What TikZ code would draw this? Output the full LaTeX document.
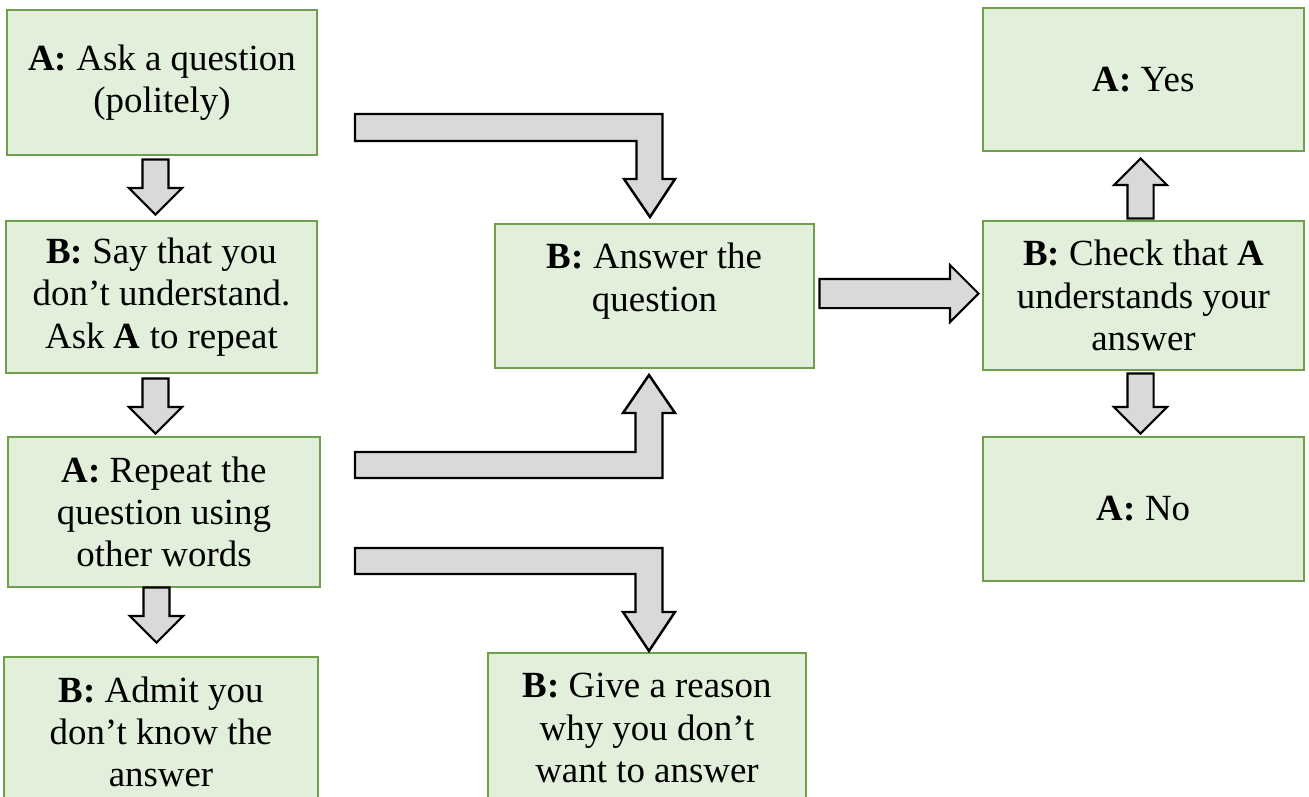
\documentclass[tikz,border=0pt]{standalone}
\usepackage{fontspec}
\setmainfont{Liberation Serif}
\usetikzlibrary{shapes.arrows}

\definecolor{boxfill}{HTML}{E2EFDA}
\definecolor{boxline}{HTML}{6F9E4C}
\definecolor{arrowfill}{HTML}{D9D9D9}

\tikzset{
  box/.style = {draw=boxline, fill=boxfill, line width=0.9pt, align=center,
    inner sep=0pt, font=\fontsize{21}{24}\selectfont},
  smallarrow/.style = {single arrow, draw=black, fill=arrowfill, line width=1.2pt,
    inner sep=0.24cm, single arrow head extend=0.27cm, single arrow tip angle=90,
    minimum height=1.1cm, anchor=tip},
  bigarrow/.style = {draw=black, fill=arrowfill, line width=1.4pt, line join=miter}
}

\begin{document}
\begin{tikzpicture}[x=0.02cm, y=-0.02cm]
\useasboundingbox (0,0) rectangle (1309,796);

\node [box, minimum width=6.2cm, minimum height=2.9cm] (ask) at (162,82.5)
  {\textbf{A:} Ask a question\\(politely)};
\node [box, minimum width=6.22cm, minimum height=3.04cm] (dont) at (161.5,297)
  {\textbf{B:} Say that you\\don't understand.\\Ask \textbf{A} to repeat};
\node [box, minimum width=6.24cm, minimum height=3.0cm] (repeat) at (164,512)
  {\textbf{A:} Repeat the\\question using\\other words};
\node [box, minimum width=6.28cm, minimum height=3.0cm] (admit) at (161,732)
  {\textbf{B:} Admit you\\don't know the\\answer};
\node [box, minimum width=6.38cm, minimum height=2.88cm, text depth=0.75cm] (answer) at (654.5,296)
  {\textbf{B:} Answer the\\question};
\node [box, minimum width=6.36cm, minimum height=3.0cm] (reason) at (647,728)
  {\textbf{B:} Give a reason\\why you don't\\want to answer};
\node [box, minimum width=6.42cm, minimum height=2.86cm] (yes) at (1143.5,79.5)
  {\textbf{A:} Yes};
\node [box, minimum width=6.42cm, minimum height=2.98cm] (check) at (1143.5,295.5)
  {\textbf{B:} Check that \textbf{A}\\understands your\\answer};
\node [box, minimum width=6.42cm, minimum height=2.88cm] (no) at (1143.5,509)
  {\textbf{A:} No};

\node [smallarrow, rotate=-90] (ask-dont) at (155.5,216) {};
\node [smallarrow, rotate=-90] (dont-repeat) at (155.5,435) {};
\node [smallarrow, rotate=-90] (repeat-admit) at (156.5,644) {};
\node [smallarrow, rotate=90, minimum height=1.2cm] (check-yes) at (1140.5,157) {};
\node [smallarrow, rotate=-90, minimum height=1.2cm] (check-no) at (1140.5,435) {};
\node [smallarrow, inner sep=0.27cm, single arrow head extend=0.28cm, minimum height=3.18cm]
  (answer-check) at (980,293.5) {};

\coordinate (t1) at (650,217);
\coordinate (t2) at (649,375);
\coordinate (t3) at (649,651);
\draw [bigarrow] (t1) -- ++(-26,-38) -- ++(12.5,0) |- (355,141) -- ++(0,-27) -| (662.5,179) -- ++(12.5,0) -- cycle;
\draw [bigarrow] (t2) -- ++(-26,38) -- ++(12.5,0) |- (355,452) -- ++(0,26) -| (662.5,413) -- ++(12.5,0) -- cycle;
\draw [bigarrow] (t3) -- ++(-26,-39) -- ++(12.5,0) |- (355,574) -- ++(0,-26) -| (662.5,612) -- ++(12.5,0) -- cycle;
\end{tikzpicture}
\end{document}
